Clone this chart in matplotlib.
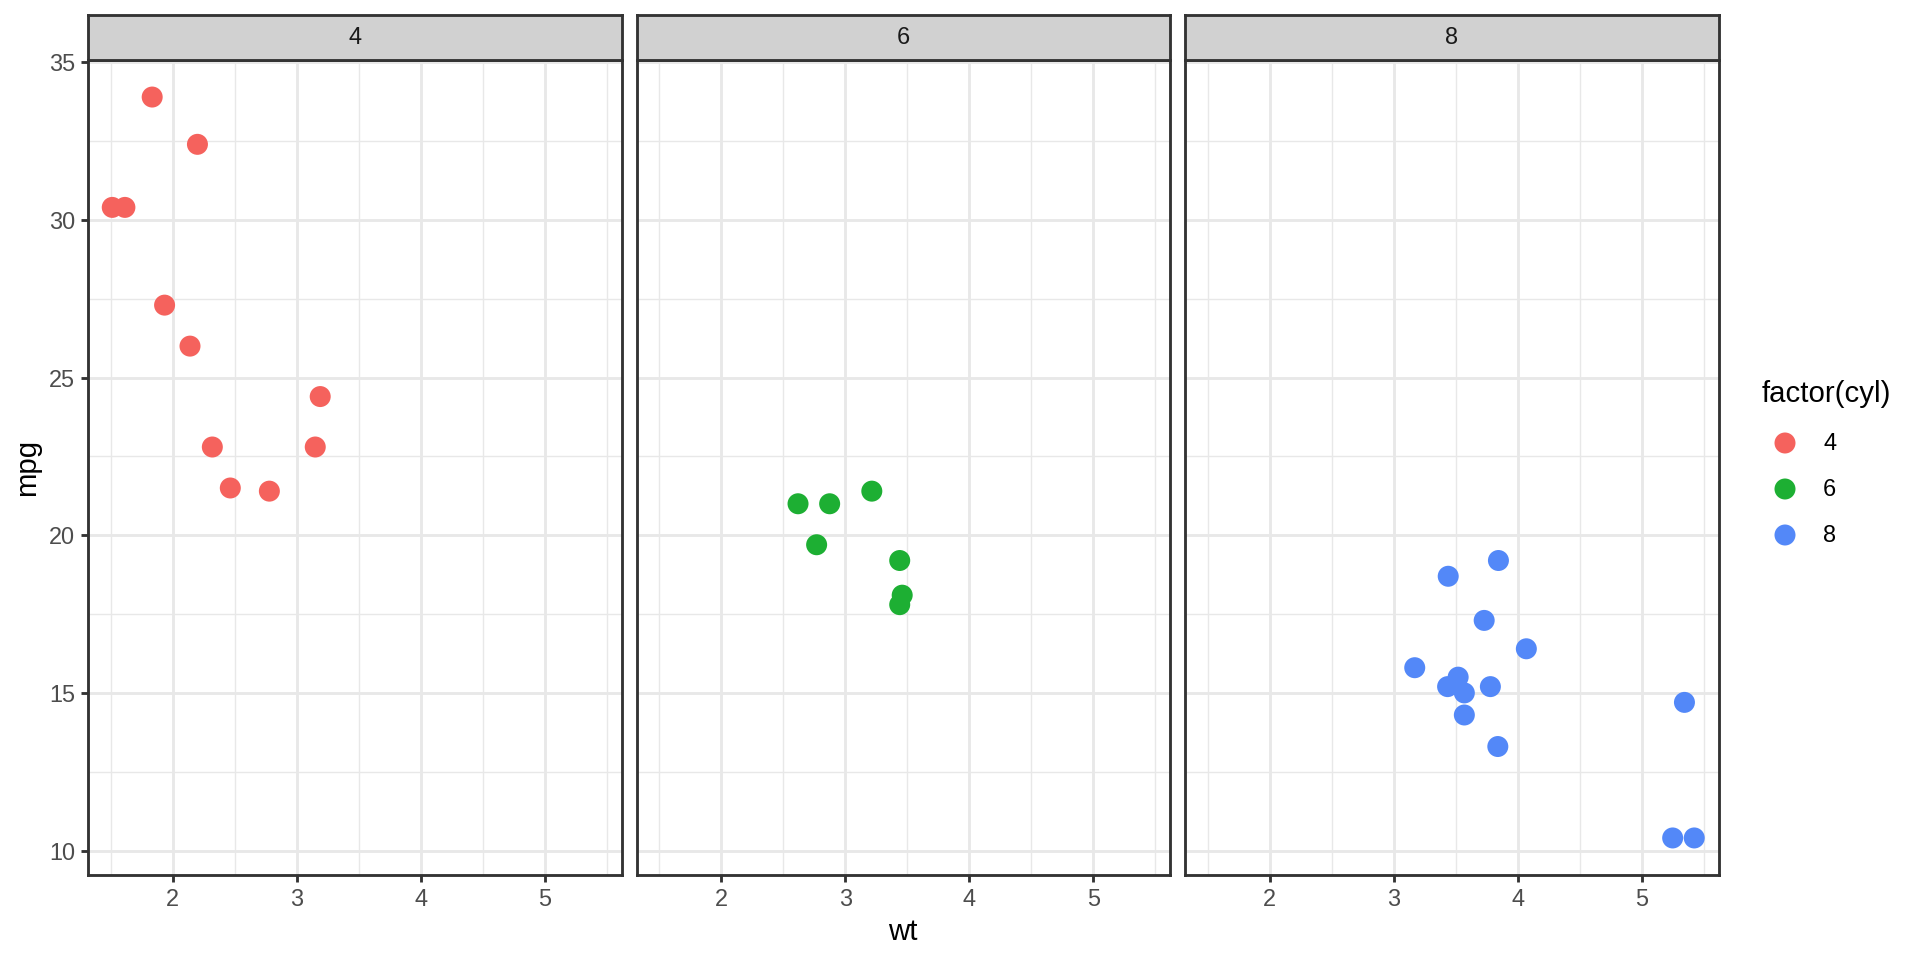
import matplotlib
matplotlib.use("Agg")
import matplotlib.pyplot as plt
import numpy as np

plt.rcParams['font.family'] = ['Liberation Sans', 'DejaVu Sans']

# mtcars data
wt = [2.620, 2.875, 2.320, 3.215, 3.440, 3.460, 3.570, 3.190, 3.150, 3.440,
      3.440, 4.070, 3.730, 3.780, 5.250, 5.424, 5.345, 2.200, 1.615, 1.835,
      2.465, 3.520, 3.435, 3.840, 3.845, 1.935, 2.140, 1.513, 3.170, 2.770,
      3.570, 2.780]
mpg = [21.0, 21.0, 22.8, 21.4, 18.7, 18.1, 14.3, 24.4, 22.8, 19.2,
       17.8, 16.4, 17.3, 15.2, 10.4, 10.4, 14.7, 32.4, 30.4, 33.9,
       21.5, 15.5, 15.2, 13.3, 19.2, 27.3, 26.0, 30.4, 15.8, 19.7,
       15.0, 21.4]
cyl = [6, 6, 4, 6, 8, 6, 8, 4, 4, 6,
       6, 8, 8, 8, 8, 8, 8, 4, 4, 4,
       4, 8, 8, 8, 8, 4, 4, 4, 8, 6,
       8, 4]
levels = [4, 6, 8]
colors = {4: '#F5625D', 6: '#1DAF33', 8: '#5388F8'}
x_ticks = [2, 3, 4, 5]
y_ticks = [10, 15, 20, 25, 30, 35]
x_minor = [1.5, 2.5, 3.5, 4.5, 5.5]
y_minor = [12.5, 17.5, 22.5, 27.5, 32.5]

W, H = 1920, 960
fig = plt.figure(figsize=(10, 5), dpi=192)

def frac(x0, y0, x1, y1):
    return [x0 / W, 1 - y1 / H, (x1 - x0) / W, (y1 - y0) / H]

wt_a = np.array(wt); mpg_a = np.array(mpg); cyl_a = np.array(cyl)
xr = wt_a.max() - wt_a.min(); yr = mpg_a.max() - mpg_a.min()
xlim = (wt_a.min() - 0.05 * xr, wt_a.max() + 0.05 * xr)
ylim = (mpg_a.min() - 0.05 * yr, mpg_a.max() + 0.05 * yr)

grey20 = '#333333'
grid_c = '#E8E8E8'
lw = 1.07
panel_lefts = [88, 636.5, 1185]
pw = 533.5
ptop, pbot = 60, 875
stop = 15

for i, lev in enumerate(levels):
    x0 = panel_lefts[i]
    ax = fig.add_axes(frac(x0, ptop, x0 + pw, pbot))
    ax.set_xlim(*xlim); ax.set_ylim(*ylim)
    for v in x_minor:
        ax.axvline(v, color=grid_c, lw=lw * 0.5, zorder=0)
    for v in y_minor:
        ax.axhline(v, color=grid_c, lw=lw * 0.5, zorder=0)
    for v in x_ticks:
        ax.axvline(v, color=grid_c, lw=lw, zorder=0.5)
    for v in y_ticks:
        ax.axhline(v, color=grid_c, lw=lw, zorder=0.5)
    m = cyl_a == lev
    ax.scatter(wt_a[m], mpg_a[m], s=62, color=colors[lev], edgecolors='none', zorder=3)
    ax.set_xticks(x_ticks)
    ax.set_yticks(y_ticks)
    ax.tick_params(axis='both', length=2.75, width=lw, color=grey20,
                   labelsize=8.8, labelcolor='#4D4D4D', pad=2.2)
    if i > 0:
        ax.tick_params(axis='y', left=False, labelleft=False)
    for s in ax.spines.values():
        s.set_color(grey20); s.set_linewidth(lw); s.set_zorder(4)
    # strip
    sax = fig.add_axes(frac(x0, stop, x0 + pw, ptop))
    sax.set_facecolor('#D1D1D1')
    sax.set_xticks([]); sax.set_yticks([])
    for s in sax.spines.values():
        s.set_color(grey20); s.set_linewidth(lw)
    sax.text(0.5, 0.5, str(lev), ha='center', va='center', fontsize=8.8,
             color='#1A1A1A', transform=sax.transAxes)

# axis titles
fig.text(27 / W, 1 - 467 / H, 'mpg', rotation=90, ha='center', va='center', fontsize=11)
fig.text(903 / W, 1 - 932 / H, 'wt', ha='center', va='center', fontsize=11)

# legend
lax = fig.add_axes([0, 0, 1, 1], facecolor='none')
lax.set_xlim(0, W); lax.set_ylim(H, 0); lax.axis('off')
lax.text(1762, 394, 'factor(cyl)', ha='left', va='center', fontsize=11)
key_y = [443, 489, 535]
for lev, ky in zip(levels, key_y):
    lax.scatter([1785], [ky], s=62, color=colors[lev], edgecolors='none')
    lax.text(1823, ky, str(lev), ha='left', va='center', fontsize=8.8)

fig.savefig('out.png', dpi=192)
